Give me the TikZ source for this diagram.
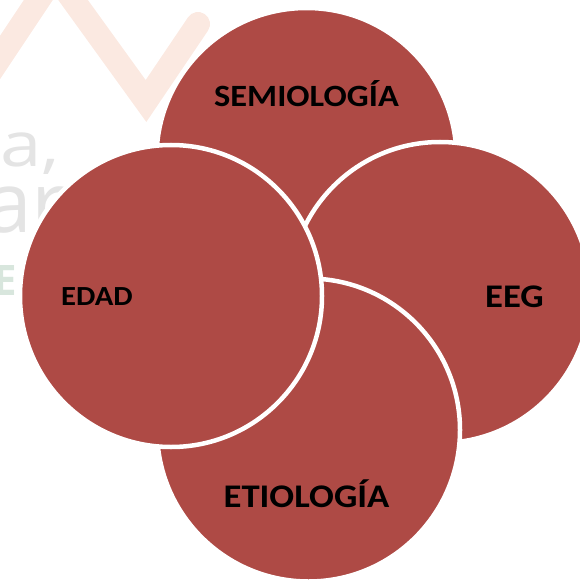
\documentclass[tikz,border=0pt]{standalone}
\usepackage{fontspec}
\setmainfont{Carlito}
\newfontfamily\wmfont{Open Sans}
\definecolor{circfill}{RGB}{174,74,69}
\definecolor{wmorange}{RGB}{251,233,225}
\definecolor{wmgrey}{RGB}{228,228,228}
\definecolor{wmgreen}{RGB}{216,230,221}
\tikzset{
  bubble/.style={circle, fill=circfill, draw=white, line width=4.5pt, inner sep=0pt},
  lbl/.style={anchor=base, inner sep=0pt, text=black},
  wm/.style={inner sep=0pt}
}
\newcommand{\lbltext}[2]{\scalebox{1}[0.9]{\bfseries\fontsize{#1}{#1}\selectfont #2}}
\begin{document}
\begin{tikzpicture}[x=1pt, y=-1pt]
\useasboundingbox (0,0) rectangle (579,580);
% faint background watermark
\draw[wmorange, line width=24pt, line cap=round, line join=miter]
  (-15,80) -- (55,-25) -- (146,101) -- (198,24);
\node[wm, anchor=base west, text=wmgrey] (wma) at (0,167)
  {\scalebox{1.2}[1]{\wmfont\fontsize{62}{62}\selectfont a,}};
\node[wm, anchor=base west, text=wmgrey] (wmar) at (-15,232)
  {\wmfont\fontsize{84}{84}\selectfont ar};
\node[wm, anchor=base east, text=wmgreen] (wme) at (17,295)
  {\wmfont\bfseries\fontsize{42}{42}\selectfont E};
% circles
\node[bubble, minimum size=300pt] (sem) at (306.5,158) {};
\node[bubble, minimum size=301pt] (eeg) at (440,292.5) {};
\node[bubble, minimum size=303pt] (eti) at (308.5,430) {};
\node[bubble, minimum size=302pt] (edad) at (171,296) {};
% labels
\node[lbl] (tsem) at (306.5,107) {\lbltext{34.4}{SEMIOLOGÍA}};
\node[lbl] (teeg) at (514.5,307) {\lbltext{36.7}{EEG}};
\node[lbl] (teti) at (306.5,507) {\lbltext{36.7}{ETIOLOGÍA}};
\node[lbl] (tedad) at (97,305) {\lbltext{30.7}{EDAD}};
\end{tikzpicture}
\end{document}
